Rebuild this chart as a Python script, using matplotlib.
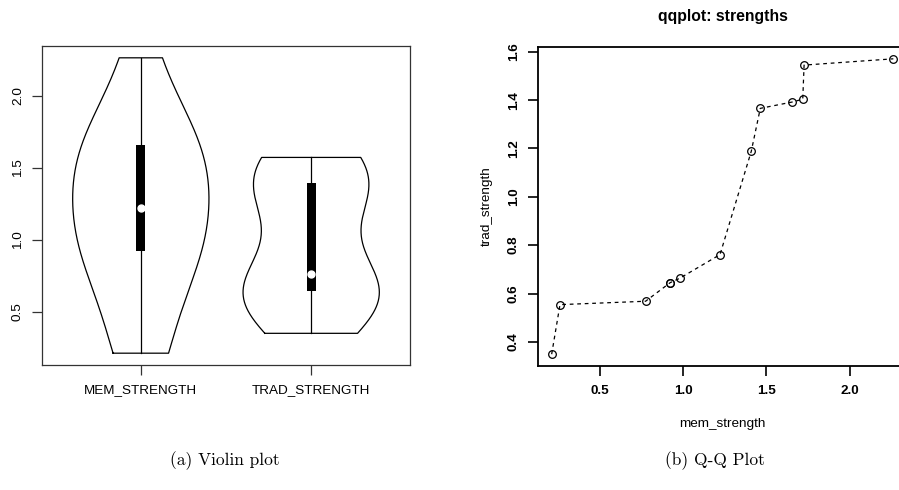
import numpy as np
import matplotlib
matplotlib.use("Agg")
import matplotlib.pyplot as plt

# ---- data (sorted values) ----
categories = ["MEM_STRENGTH", "TRAD_STRENGTH"]
mem_strength = [0.211, 0.261, 0.775, 0.923, 0.923, 0.980, 1.222, 1.410, 1.464, 1.654, 1.719, 1.727, 2.263]
trad_strength = [0.349, 0.554, 0.568, 0.645, 0.645, 0.663, 0.761, 1.189, 1.366, 1.392, 1.404, 1.545, 1.571]
violin_yticks = [0.5, 1.0, 1.5, 2.0]
qq_xticks = [0.5, 1.0, 1.5, 2.0]
qq_yticks = [0.4, 0.6, 0.8, 1.0, 1.2, 1.4, 1.6]

SANS = ["Liberation Sans", "DejaVu Sans"]
FS = 9.7
W, H = 899, 490
fig = plt.figure(figsize=(W / 100, H / 100), dpi=100)


def frac(x0, y0, x1, y1):
    return [x0 / W, 1 - y1 / H, (x1 - x0) / W, (y1 - y0) / H]


def kde(data, grid):
    d = np.asarray(data, float)
    n = len(d)
    h = d.std(ddof=1) * (4.0 / (3.0 * n)) ** 0.2
    z = (grid[:, None] - d[None, :]) / h
    return np.exp(-0.5 * z ** 2).sum(axis=1) / (n * h * np.sqrt(2 * np.pi))


def pad(lo, hi):
    r = hi - lo
    return lo - 0.04 * r, hi + 0.04 * r


# ---------------- (a) violin plot ----------------
ax1 = fig.add_axes(frac(42, 46, 410, 365))
for i, vals in enumerate([mem_strength, trad_strength]):
    pos = i + 1
    v = np.sort(np.asarray(vals, float))
    grid = np.linspace(v.min(), v.max(), 300)
    dens = kde(v, grid)
    half = dens / dens.max() * 0.4
    xs = np.concatenate([pos - half, (pos + half)[::-1], [pos - half[0]]])
    ys = np.concatenate([grid, grid[::-1], [grid[0]]])
    ax1.plot(xs, ys, color="black", lw=0.9)
    q1, med, q3 = np.percentile(v, [25, 50, 75])
    ax1.plot([pos, pos], [v.min(), v.max()], color="black", lw=0.9)
    ax1.add_patch(plt.Rectangle((pos - 0.026, q1), 0.052, q3 - q1,
                                facecolor="black", edgecolor="black", lw=0))
    ax1.plot([pos], [med], "o", ms=5, mfc="white", mec="white")

ax1.set_xlim(0.42, 2.58)
ax1.set_ylim(*pad(min(mem_strength), max(mem_strength)))
ax1.set_xticks([1, 2])
ax1.set_xticklabels(categories, fontsize=FS, family=SANS)
ax1.set_yticks(violin_yticks)
ax1.set_yticklabels([f"{t:.1f}" for t in violin_yticks], fontsize=FS,
                    family=SANS, rotation=90, va="center")
for s in ax1.spines.values():
    s.set_linewidth(0.9)
    s.set_color("#333333")
ax1.tick_params(length=7, width=0.9, color="#333333", pad=7)
ax1.tick_params(axis="y", pad=6)

# ---------------- (b) Q-Q plot ----------------
ax2 = fig.add_axes(frac(538, 47, 907, 366))
mx = np.sort(mem_strength)
my = np.sort(trad_strength)
ax2.plot(mx, my, ls=(0, (3, 3)), color="black", lw=0.9)
ax2.plot(mx, my, "o", ms=5.5, mfc="none", mec="black", mew=0.9)
ax2.set_xlim(*pad(mx.min(), mx.max()))
ax2.set_ylim(*pad(my.min(), my.max()))
ax2.set_xticks(qq_xticks)
ax2.set_xticklabels([f"{t:.1f}" for t in qq_xticks], fontsize=FS,
                    family=SANS, fontweight="bold")
ax2.set_yticks(qq_yticks)
ax2.set_yticklabels([f"{t:.1f}" for t in qq_yticks], fontsize=FS,
                    family=SANS, fontweight="bold", rotation=90, va="center")
for s in ax2.spines.values():
    s.set_linewidth(1.3)
    s.set_color("black")
ax2.tick_params(length=7, width=1.2, color="black", pad=7)
ax2.tick_params(axis="y", pad=6)
ax2.set_xlabel("mem_strength", fontsize=FS, family=SANS, labelpad=15)
ax2.set_ylabel("trad_strength", fontsize=FS, family=SANS, labelpad=11)
ax2.set_title("qqplot: strengths", fontsize=11.3, family=SANS,
              fontweight="bold", pad=19)

# ---------------- captions ----------------
fig.text(225 / W, 1 - 461 / H, "(a) Violin plot", ha="center", va="center",
         fontsize=12.5, family=["cmr10", "DejaVu Serif"])
fig.text(715 / W, 1 - 461 / H, "(b) Q-Q Plot", ha="center", va="center",
         fontsize=12.5, family=["cmr10", "DejaVu Serif"])

fig.savefig("out.png", dpi=100)
